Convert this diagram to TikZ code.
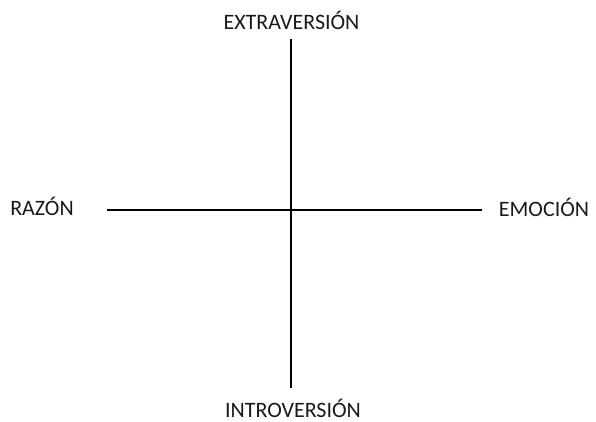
\documentclass[tikz,border=0pt]{standalone}
\usepackage{fontspec}
\setmainfont{Carlito}
\usepackage{tikz}
\usetikzlibrary{positioning}

\begin{document}
\begin{tikzpicture}[x=1pt, y=-1pt,
    axis/.style={line width=1.6pt, black},
    pole/.style={inner sep=0pt, anchor=base, font=\fontsize{22}{24}\selectfont, text=black!90}]
    \useasboundingbox (0,0) rectangle (596,421);
    % ends of the two axes
    \coordinate (north) at (291,39);
    \coordinate (south) at (291,388);
    \coordinate (west) at (107,210);
    \coordinate (east) at (482,210);

    \node (extra) [pole] at (291.5,29) {EXTRAVERSIÓN};
    \node (intro) [pole] at (293,417) {INTROVERSIÓN};
    \node (razon) [pole] at (42,215.5) {RAZÓN};
    \node (emocion) [pole] at (544,216) {EMOCIÓN};

    \draw [axis] (north) -- (south);
    \draw [axis] (west) -- (east);
\end{tikzpicture}
\end{document}
